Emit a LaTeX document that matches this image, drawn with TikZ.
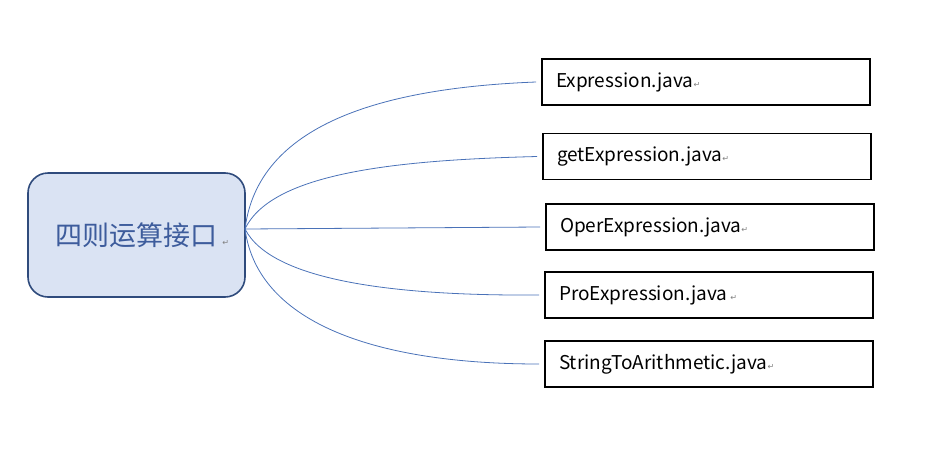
\documentclass[tikz,border=0pt]{standalone}
\usepackage{fontspec}
\setmainfont{Noto Sans CJK SC}
\newfontfamily\cjkfont{Noto Sans CJK SC}
\newfontfamily\symfont{DejaVu Sans}
\definecolor{hubfill}{HTML}{DAE3F3}
\definecolor{hubdraw}{HTML}{2F4B7C}
\definecolor{hubtext}{HTML}{3D5C9C}
\definecolor{linkblue}{HTML}{4A72B8}
\definecolor{retgrey}{HTML}{808080}
\newcommand{\retmark}{{\symfont\fontsize{8}{8}\selectfont\textcolor{retgrey}{↵}}}
\begin{document}
\begin{tikzpicture}[x=1pt,y=-1pt,
  hub/.style={draw=hubdraw,fill=hubfill,line width=1.6pt,rounded corners=20pt,
    minimum width=217pt,minimum height=124pt,inner sep=0pt,text=hubtext,
    font=\cjkfont\fontsize{27}{27}\selectfont},
  filebox/.style={draw=black,line width=1.8pt,minimum width=328pt,minimum height=46pt,
    inner sep=0pt,text width=300pt,align=left,
    font=\fontsize{19}{19}\selectfont},
  link/.style={draw=linkblue,line width=0.8pt}]
\useasboundingbox (0,0) rectangle (941,458);
\node[hub] (hub) at (136.5,235) {\hspace*{12pt}四则运算接口\,\retmark};
\node[filebox] (f1) at (706,82) {Expression.java\retmark};
\node[filebox] (f2) at (707,156.5) {getExpression.java\retmark};
\node[filebox] (f3) at (710,227) {OperExpression.java\retmark};
\node[filebox] (f4) at (709,295) {ProExpression.java\,\retmark};
\node[filebox] (f5) at (709,364) {StringToArithmetic.java\retmark};
\coordinate (hs) at (245,229);
\draw[link] (hs) .. controls (258,125) and (380,88) .. ([xshift=-5pt]f1.west);
\draw[link] (hs) .. controls (272,172) and (400,160) .. ([xshift=-5pt]f2.west);
\draw[link] (hs) -- ([xshift=-5pt]f3.west);
\draw[link] (hs) .. controls (272,282) and (400,296) .. ([xshift=-5pt]f4.west);
\draw[link] (hs) .. controls (258,325) and (380,364) .. ([xshift=-5pt]f5.west);
\end{tikzpicture}
\end{document}
